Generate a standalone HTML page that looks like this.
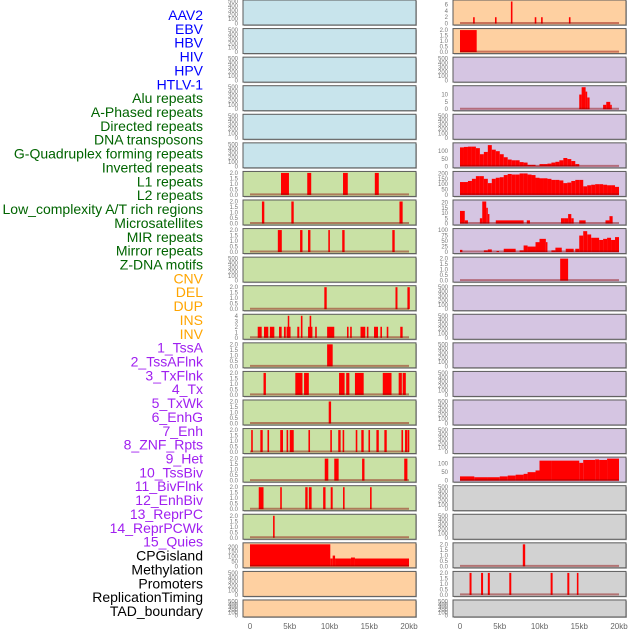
<!DOCTYPE html>
<html><head><meta charset="utf-8">
<style>
body{margin:0;background:#fff;width:630px;height:630px;overflow:hidden}
svg{display:block;font-family:"Liberation Sans",sans-serif}
</style></head>
<body>
<svg id="chart" width="630" height="630" viewBox="0 0 630 630" xmlns="http://www.w3.org/2000/svg"></svg>
<script>
const labels = ["AAV2","EBV","HBV","HIV","HPV","HTLV-1","Alu repeats","A-Phased repeats","Directed repeats","DNA transposons","G-Quadruplex forming repeats","Inverted repeats","L1 repeats","L2 repeats","Low_complexity A/T rich regions","Microsatellites","MIR repeats","Mirror repeats","Z-DNA motifs","CNV","DEL","DUP","INS","INV","1_TssA","2_TssAFlnk","3_TxFlnk","4_Tx","5_TxWk","6_EnhG","7_Enh","8_ZNF_Rpts","9_Het","10_TssBiv","11_BivFlnk","12_EnhBiv","13_ReprPC","14_ReprPCWk","15_Quies","CPGisland","Methylation","Promoters","ReplicationTiming","TAD_boundary"];
const labelGroupSizes = [6,13,5,15,5];
const labelColors = ["#0000ff","#006400","#ffa500","#a020f0","#000000"];
const xTicks = [0,5,10,15,20];
const xTickLabels = ["0","5kb","10kb","15kb","20kb"];
const leftFills = ["blue","blue","blue","blue","blue","blue","green","green","green","green","green","green","green","green","green","green","green","green","green","orange","orange","orange"];
const rightFills = ["orange","orange","purple","purple","purple","purple","purple","purple","purple","purple","purple","purple","purple","purple","purple","purple","purple","gray","gray","gray","gray","gray"];
// segments: [startKb, endKb, value]
const L6 = [[3.9,4.9,2],[7.2,7.7,2],[11.7,12.3,2],[15.7,16.2,2]];
const L7 = [[1.5,1.8,2],[5.2,5.5,2],[18.8,19.2,2]];
const L8 = [[3.5,4.0,2],[6.3,6.6,2],[7.3,7.6,2],[9.85,10.05,2],[11.6,11.9,2],[17.9,18.2,2]];
const L10 = [[9.35,9.65,2],[18.3,18.55,2],[19.8,20.1,2]];
const L11 = [[0.97,1.47,2],[1.76,2.3,2],[2.5,3.06,2],[3.65,3.98,2],[4.27,4.5,2],[4.6,5.1,2],[4.75,4.9,4],[5.95,6.2,2],[6.4,6.6,4],[7.3,7.85,2],[7.5,7.7,4],[8.2,8.4,2],[9.7,10.6,2],[12.2,12.4,2],[12.6,12.8,2],[13.9,14.5,2],[14.7,14.9,2],[15.6,16.1,2],[16.4,16.6,2],[17.2,17.4,2],[18.9,19.2,2]];
const L12 = [[9.7,10.4,2]];
const L13 = [[1.7,2.0,2],[5.7,6.6,2],[6.8,7.4,2],[11.2,11.9,2],[12.1,12.5,2],[13.2,14.3,2],[16.7,17.8,2],[18.7,19.1,2],[19.2,19.6,2]];
const L14 = [[9.9,10.2,2]];
const L15 = [[0.15,0.35,2],[1.3,1.6,2],[2.2,2.4,2],[3.8,4.15,2],[4.6,4.8,2],[5.0,5.5,2],[7.35,7.55,2],[10.1,10.3,2],[11.1,11.4,2],[11.65,11.85,2],[13.3,13.5,2],[14.0,14.3,2],[14.9,15.1,2],[15.9,16.2,2],[16.9,17.2,2],[19.05,19.25,2],[19.5,19.8,2],[19.85,20.0,2]];
const L16 = [[9.4,9.85,2],[10.6,11.15,2],[14.1,14.4,2],[19.4,19.8,2]];
const L17 = [[1.1,1.7,2],[3.8,4.0,2],[6.95,7.25,2],[7.4,7.75,2],[9.2,9.5,2],[10.15,10.4,2],[11.7,11.9,2],[15.1,15.3,2]];
const L18 = [[2.9,3.1,2]];
const L19 = [[0,10.1,225],[10.1,10.4,80],[10.4,10.7,110],[10.7,12.7,80],[12.7,13.2,90],[13.2,20,80]];
const R0 = [[1.65,1.85,2],[4.4,4.6,2],[6.4,6.6,7],[9.4,9.6,2],[10.2,10.4,2],[13.7,13.9,2]];
const R1 = [[0,2.1,2]];
const R3 = [[15.0,15.3,10],[15.3,15.8,15],[15.8,16.0,12],[16.0,16.3,8],[18.0,18.4,3],[18.4,18.9,5],[18.9,19.0,3]];
const R5bins = [125,128,130,130,120,80,95,140,110,100,80,60,45,40,40,28,25,10,10,3,15,15,18,25,30,40,55,48,35,15];
const R6bins = [120,120,130,150,175,175,150,110,150,160,165,185,195,190,190,200,200,190,185,160,155,155,150,140,140,135,110,115,130,140,140,80,90,95,100,100,95,90,90,75];
const R7 = [[0,0.6,12],[0.6,1.0,3],[2.5,2.8,5],[2.8,3.3,21],[3.3,3.5,15],[3.5,3.7,9],[4.5,8.0,3],[8.4,8.8,3],[12.7,13.2,5],[13.2,13.6,5],[13.6,14.0,9],[14.0,14.3,5],[15.0,15.8,3],[18.3,18.8,3],[18.8,19.2,7]];
const R8 = [[0,0.3,10],[3.0,3.5,8],[3.5,4.0,12],[4.6,4.9,5],[5.5,7.0,15],[7.5,8.0,8],[8.0,8.5,30],[8.5,9.5,25],[9.5,10.0,45],[10.0,10.8,60],[10.8,11.0,45],[11.5,12.0,8],[12.0,12.8,20],[13.3,14.3,15],[14.5,15.0,15],[15.0,15.5,75],[15.5,16.0,95],[16.0,16.5,80],[16.5,17.5,65],[17.5,18.0,55],[18.0,18.5,60],[18.5,19.0,65],[19.0,19.5,55],[19.5,20.0,68]];
const R9 = [[12.6,13.6,2]];
const R16 = [[0,1.8,25],[1.8,3.4,20],[3.4,5.0,20],[5.0,6.0,25],[6.0,7.0,30],[7.0,8.0,35],[8.0,8.5,40],[8.5,9.5,50],[9.5,10.0,60],[10.0,11.5,118],[11.5,15.0,118],[15.0,15.5,105],[15.5,17.0,122],[17.0,17.5,125],[17.5,18.5,122],[18.5,20.0,130]];
const R19 = [[7.9,8.2,2]];
const R20 = [[1.2,1.45,2],[2.65,2.9,2],[3.5,3.75,2],[6.2,6.45,2],[11.4,11.65,2],[13.5,13.75,2],[14.7,14.9,2]];

const fillMap = {blue:"#c8e4ec",green:"#c9e1a5",orange:"#fed0a1",purple:"#d5c5e2",gray:"#d2d2d2"};
const NS = "http://www.w3.org/2000/svg";
const svg = document.getElementById("chart");
function mk(tag, attrs, parent){const e=document.createElementNS(NS,tag);for(const k in attrs)e.setAttribute(k,attrs[k]);(parent||svg).appendChild(e);return e;}
function binsToSegs(b){return b.map((v,i)=>[i*0.5,i*0.5+0.5,v]);}

const rowTop = i => i*28.57;
const rowH = i => i===21 ? 17 : 25;

// panels spec: [col, row, segs, ymax, ticks]
const t2 = [0,0.5,1,1.5,2];
const panels = {
 "L6":[0,6,L6,2,t2],"L7":[0,7,L7,2,t2],"L8":[0,8,L8,2,t2],"L10":[0,10,L10,2,t2],
 "L11":[0,11,L11,4,[0,1,2,3,4]],"L12":[0,12,L12,2,t2],"L13":[0,13,L13,2,t2],"L14":[0,14,L14,2,t2],
 "L15":[0,15,L15,2,t2],"L16":[0,16,L16,2,t2],"L17":[0,17,L17,2,t2],"L18":[0,18,L18,2,t2],
 "L19":[0,19,L19,225,[0,50,100,150,200]],
 "R0":[1,0,R0,7,[0,2,4,6]],"R1":[1,1,R1,2,t2],"R3":[1,3,R3,15,[0,5,10]],
 "R5":[1,5,binsToSegs(R5bins),145,[0,50,100]],"R6":[1,6,binsToSegs(R6bins),205,[0,50,100,150,200]],
 "R7":[1,7,R7,21,[0,5,10,15,20]],"R8":[1,8,R8,100,[0,25,50,75,100]],"R9":[1,9,R9,2,t2],
 "R16":[1,16,R16,130,[0,50,100]],"R19":[1,19,R19,2,t2],"R20":[1,20,R20,2,t2]
};

// labels
let idx=0;
labelGroupSizes.forEach((n,g)=>{for(let k=0;k<n;k++){
  const t=mk("text",{x:203,y:15+idx*13.86+5,"text-anchor":"end","font-size":"14",fill:labelColors[g]});
  
  
  t.textContent=labels[idx]; idx++;}});

function fmt(v,ymax){return ymax===2?v.toFixed(1):String(v);}

for(let col=0;col<2;col++){
  const px0 = col===0?243:453;
  const x0 = col===0?250:460;
  const xs = kb => x0 + kb*7.95;
  for(let r=0;r<22;r++){
    const top=rowTop(r), h=rowH(r);
    const key=(col===0?"L":"R")+r;
    const spec=panels[key];
    const fill=fillMap[(col===0?leftFills:rightFills)[r]];
    const g=mk("g",{});
    
    
    mk("rect",{x:px0+1,y:top+1,width:173,height:h,fill:"#bbb"},g);
    mk("rect",{x:px0,y:top,width:173,height:h,fill:fill,stroke:"#5a5a5a","stroke-width":1},g);
    const yb=top+h-1.5, ytop=top+1.5;
    let ymax, ticks;
    if(spec){ymax=spec[3];ticks=spec[4];}else{ymax=500;ticks=[0,100,200,300,400,500];}
    const ys = v => yb - (Math.min(v,ymax)/ymax)*(yb-ytop);
    ticks.forEach(tv=>{
      const tt=mk("text",{x:px0-5,y:ys(tv)+2,"text-anchor":"end","font-size":"6",fill:"#777"},g);
      
      
      tt.textContent=fmt(tv,ymax);
    });
    if(spec){
      const segs=spec[2];
      segs.forEach(s=>{
        if(s[2]<=0)return;
        const b=mk("rect",{x:xs(s[0]),y:ys(s[2]),width:Math.max(1.5,xs(s[1])-xs(s[0])),height:yb-ys(s[2]),fill:"#ff0000"},g);
        
        
      });
      mk("line",{x1:xs(0),x2:xs(20),y1:yb-0.5,y2:yb-0.5,stroke:"rgba(139,0,0,0.45)","stroke-width":2},g);
    }
  }
  xTicks.forEach((v,i)=>{
    const t=mk("text",{x:xs(v),y:629,"text-anchor":"middle","font-size":"8",fill:"#666"});
    
    
    t.textContent=xTickLabels[i];
  });
}
</script>
</body></html>
